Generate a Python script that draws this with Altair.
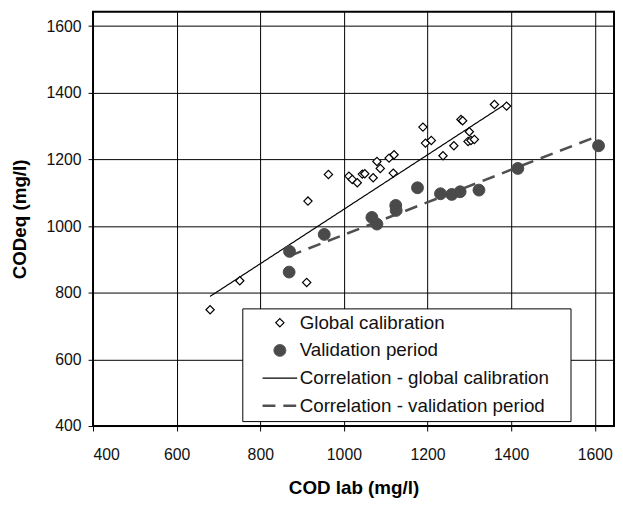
import altair as alt
import pandas as pd

# ---- data ----
# (the trailing no-break spaces only widen the legend box, as in the reference)
series = [
    "Global calibration",
    "Validation period",
    "Correlation - global calibration\u00a0\u00a0\u00a0\u200b",
    "Correlation - validation period",
]

global_x = [680, 751, 911, 914, 963, 1012, 1020, 1032, 1044, 1050, 1070, 1087, 1079, 1108,
            1120, 1118, 1189, 1195, 1209, 1237, 1263, 1280, 1284, 1300, 1297, 1304, 1312,
            1360, 1389]
global_y = [749, 836, 831, 1075, 1155, 1150, 1140, 1130, 1156, 1157, 1145, 1173, 1194, 1204,
            1214, 1159, 1297, 1249, 1257, 1211, 1241, 1320, 1316, 1283, 1254, 1257, 1260,
            1365, 1360]

valid_x = [870, 869, 953, 1067, 1079, 1124, 1125, 1176, 1231, 1258, 1278, 1323, 1416, 1609]
valid_y = [924, 862, 975, 1026, 1006, 1062, 1047, 1115, 1097, 1095, 1103, 1108, 1173, 1241]

corr_global_x = [680, 1385]
corr_global_y = [789, 1365]
corr_valid_x = [869, 1609]
corr_valid_y = [910, 1271]

x_ticks = [400, 600, 800, 1000, 1200, 1400, 1600]
y_ticks = [400, 600, 800, 1000, 1200, 1400, 1600]

# ---- styling per series ----
shape_range = ["diamond", "circle", "M-3.5,0H3.5", "M-3.5,0H3.5"]
fill_range = ["#ffffff", "#4a4a4a", "transparent", "transparent"]
stroke_range = ["#000000", "#4a4a4a", "#000000", "#505050"]
width_range = [1.2, 1, 1.2, 2.6]
dash_range = [[1, 0], [1, 0], [1, 0], [13, 8]]
size_range = [70, 144, 100, 100]

points_df = pd.DataFrame({
    "x": global_x + valid_x,
    "y": global_y + valid_y,
    "series": [series[0]] * len(global_x) + [series[1]] * len(valid_x),
})
lines_df = pd.DataFrame({
    "x": corr_global_x + corr_valid_x,
    "y": corr_global_y + corr_valid_y,
    "series": [series[2]] * 2 + [series[3]] * 2,
})

FONT = "Liberation Sans"
leg = dict(title=None)

xenc = alt.X("x:Q", scale=alt.Scale(domain=[400, 1646], nice=False, zero=False),
             axis=alt.Axis(values=x_ticks, format="d", title="COD lab (mg/l)", labelPadding=16,
                           titleY=68, titleBaseline="alphabetic"))
yenc = alt.Y("y:Q", scale=alt.Scale(domain=[400, 1643], nice=False, zero=False),
             axis=alt.Axis(values=y_ticks, format="d", title="CODeq (mg/l)", labelPadding=7,
                           titleX=-68, titleBaseline="alphabetic"))

stroke_enc = alt.Stroke("series:N", scale=alt.Scale(domain=series, range=stroke_range),
                        legend=alt.Legend(**leg))
width_enc = alt.StrokeWidth("series:N", scale=alt.Scale(type="ordinal", domain=series, range=width_range),
                            legend=alt.Legend(**leg))

lines = alt.Chart(lines_df).mark_line().encode(
    x=xenc, y=yenc,
    stroke=stroke_enc,
    strokeWidth=width_enc,
    strokeDash=alt.StrokeDash("series:N", scale=alt.Scale(domain=series, range=dash_range),
                              legend=alt.Legend(**leg)),
)

points = alt.Chart(points_df).mark_point(filled=True, opacity=1).encode(
    x=xenc, y=yenc,
    shape=alt.Shape("series:N", scale=alt.Scale(domain=series, range=shape_range),
                    legend=alt.Legend(**leg)),
    fill=alt.Fill("series:N", scale=alt.Scale(domain=series, range=fill_range),
                  legend=alt.Legend(**leg)),
    stroke=stroke_enc,
    strokeWidth=width_enc,
    size=alt.Size("series:N", scale=alt.Scale(type="ordinal", domain=series, range=size_range),
                  legend=alt.Legend(**leg)),
)

chart = alt.layer(lines, points).properties(
    width=527, height=419,
    padding={"left": 86, "top": 1, "right": 1, "bottom": 76},
    autosize=alt.AutoSizeParams(type="none"),
).configure_view(
    stroke="black", strokeWidth=2
).configure_axis(
    grid=True, gridColor="#000000", gridWidth=1, gridOpacity=1,
    domain=False, ticks=True, tickSize=5, tickColor="#000000", tickWidth=1,
    labelFont=FONT, labelFontSize=16, labelColor="#111111",
    titleFont=FONT, titleFontSize=19, titleFontWeight="bold", titleColor="#000000",
).configure_legend(
    orient="none", legendX=151, legendY=300,
    fillColor="white", strokeColor="black", strokeWidth=1,
    padding=5, rowPadding=8, labelFont=FONT, labelFontSize=19, labelColor="#111111",
    symbolOffset=23.5, labelOffset=10.5, labelLimit=400,
)

chart.save("out.html", embed_options={"renderer": "svg", "actions": False})
